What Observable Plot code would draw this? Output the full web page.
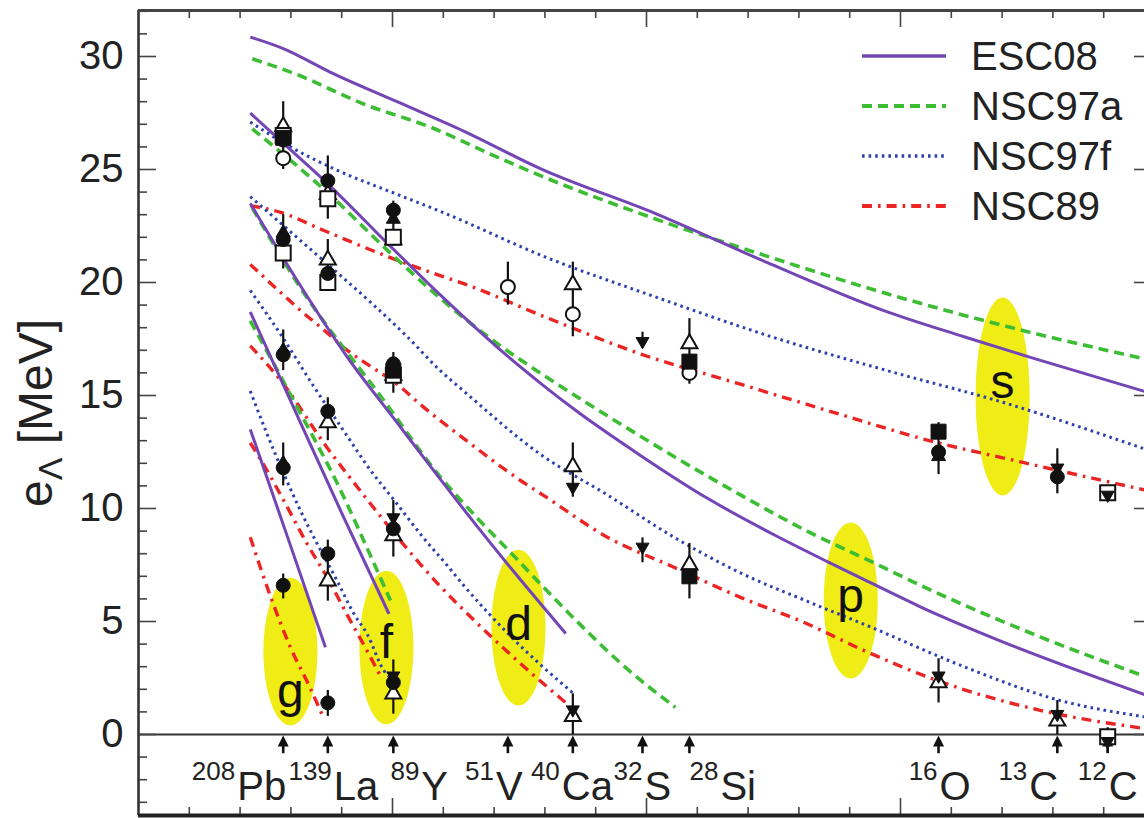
<!DOCTYPE html>
<html><head><meta charset="utf-8">
<script src="https://cdn.jsdelivr.net/npm/d3@7"></script>
<script src="https://cdn.jsdelivr.net/npm/@observablehq/plot@0.6"></script>
<style>
html,body{margin:0;padding:0;background:#fff;overflow:hidden;}
#chart svg{display:block;overflow:hidden;}
</style></head><body><div id="chart"></div>
<script>
// ---------- nuclei (x = A^(-2/3)) ----------
const nucA = [208, 139, 89, 51, 40, 32, 28, 16, 13, 12];
const nucSymbol = ["Pb", "La", "Y", "V", "Ca", "S", "Si", "O", "C", "C"];
const nucKey = ["Pb208", "La139", "Y89", "V51", "Ca40", "S32", "Si28", "O16", "C13", "C12"];

// ---------- theory curves [A^(-2/3), e_Lambda (MeV)] ----------
const esc08S = [[0.0220,30.86],[0.0285,30.35],[0.0378,29.3],[0.0509,28.0],[0.0640,26.7],[0.0791,25.04],[0.1019,23.04],[0.1246,20.8],[0.1474,18.7],[0.1625,17.6],[0.1754,16.7],[0.1985,15.15]];
const esc08P = [[0.0220,27.5],[0.0293,26.0],[0.0371,24.4],[0.0496,21.6],[0.0594,19.45],[0.0726,16.75],[0.0791,15.55],[0.0857,14.4],[0.0988,12.35],[0.1120,10.45],[0.1250,8.85],[0.1356,7.65],[0.1447,6.65],[0.1539,5.65],[0.1701,4.1],[0.1985,1.73]];
const esc08D = [[0.0220,23.5],[0.0312,20.1],[0.0411,16.7],[0.0509,13.8],[0.0594,11.3],[0.0667,9.2],[0.0739,7.2],[0.0841,4.47]];
const esc08F = [[0.0220,18.7],[0.0299,14.78],[0.0398,9.9],[0.0493,5.34]];
const esc08G = [[0.0220,13.5],[0.0294,8.7],[0.0368,3.86]];

const nsc97aS = [[0.0224,29.9],[0.0312,29.2],[0.0443,27.9],[0.0575,26.87],[0.0706,25.55],[0.0791,24.73],[0.1019,22.8],[0.1246,21.1],[0.1474,19.5],[0.1701,18.1],[0.1985,16.6]];
const nsc97aP = [[0.0224,26.8],[0.0371,24.0],[0.0496,21.3],[0.0594,19.3],[0.0706,17.3],[0.0811,15.7],[0.0923,14.1],[0.1054,12.3],[0.1185,10.6],[0.1316,9.0],[0.1447,7.6],[0.1549,6.5],[0.1777,4.3],[0.1985,2.54]];
const nsc97aD = [[0.0224,23.3],[0.0312,20.0],[0.0483,14.78],[0.0594,11.4],[0.0666,9.6],[0.0739,7.9],[0.0798,6.5],[0.0870,4.85],[0.0962,2.9],[0.1057,1.2]];
const nsc97aF = [[0.0220,18.3],[0.0312,14.5],[0.0398,10.8],[0.0443,8.6],[0.0496,5.93]];

const nsc97fS = [[0.0220,27.1],[0.0299,26.0],[0.0378,25.1],[0.0509,23.9],[0.0594,23.15],[0.0804,21.1],[0.1019,19.35],[0.1246,17.6],[0.1474,16.1],[0.1701,14.7],[0.1985,12.6]];
const nsc97fP = [[0.0220,23.8],[0.0332,21.6],[0.0398,20.3],[0.0463,19.0],[0.0529,17.6],[0.0594,16.1],[0.0640,15.2],[0.0791,12.4],[0.0923,10.6],[0.1054,8.73],[0.1185,7.15],[0.1316,5.9],[0.1447,4.7],[0.1625,3.0],[0.1815,1.5],[0.1985,0.77]];
const nsc97fD = [[0.0220,19.65],[0.0280,17.7],[0.0345,15.4],[0.0411,13.2],[0.0450,11.9],[0.0509,10.2],[0.0561,8.7],[0.0607,7.5],[0.0640,6.6],[0.0739,4.2],[0.0857,1.8]];
const nsc97fF = [[0.0220,15.2],[0.0253,13.3],[0.0286,11.53],[0.0319,9.9],[0.0352,8.43],[0.0391,6.8],[0.0424,5.34],[0.0450,4.45],[0.0483,2.83],[0.0496,2.5]];

const nsc89S = [[0.0220,23.4],[0.0280,23.1],[0.0365,22.3],[0.0496,21.1],[0.0588,20.35],[0.0640,19.95],[0.0803,18.45],[0.0988,16.84],[0.1185,15.5],[0.1398,14.05],[0.1549,13.05],[0.1739,12.05],[0.1985,10.8]];
const nsc89P = [[0.0220,20.8],[0.0273,19.7],[0.0319,18.76],[0.0365,17.9],[0.0411,17.0],[0.0463,16.2],[0.0509,15.5],[0.0555,14.6],[0.0654,12.86],[0.0752,11.24],[0.0798,10.57],[0.0923,8.73],[0.1054,7.4],[0.1185,6.07],[0.1316,4.9],[0.1420,3.8],[0.1572,2.39],[0.1777,1.06],[0.1985,0.25]];
const nsc89D = [[0.0220,17.2],[0.0280,15.66],[0.0371,12.7],[0.0443,10.6],[0.0522,8.4],[0.0588,6.7],[0.0654,5.2],[0.0739,3.4],[0.0844,1.35]];
const nsc89F = [[0.0220,12.9],[0.0234,12.4],[0.0286,10.35],[0.0332,8.43],[0.0371,6.96],[0.0417,5.04],[0.0450,3.7],[0.0476,2.6]];
const nsc89G = [[0.0220,8.73],[0.0260,6.1],[0.0299,3.86],[0.0335,2.2],[0.0365,0.7]];

const modelNames = ["ESC08", "NSC97a", "NSC97f", "NSC89"];
const modelCurves = [
  [esc08S, esc08P, esc08D, esc08F, esc08G],
  [nsc97aS, nsc97aP, nsc97aD, nsc97aF],
  [nsc97fS, nsc97fP, nsc97fD, nsc97fF],
  [nsc89S, nsc89P, nsc89D, nsc89F, nsc89G]
];

// ---------- experimental points [nucleus, e_Lambda] ----------
const openTriangles = [["Pb208",26.9],["La139",23.9],["La139",21.0],["La139",13.8],["La139",6.8],["Y89",21.9],["Y89",15.9],["Y89",8.8],["Y89",1.8],["Ca40",19.9],["Ca40",11.85],["Ca40",0.8],["Si28",17.3],["Si28",7.5],["O16",2.3],["C13",0.6]];
const openSquares = [["Pb208",26.5],["Pb208",21.3],["La139",23.7],["La139",20.0],["Y89",22.0],["Y89",15.9],["C12",10.7],["C12",-0.1]];
const openCircles = [["Pb208",25.5],["V51",19.8],["Ca40",18.6],["Si28",16.0]];
const filledSquares = [["Pb208",26.4],["Y89",16.1],["Si28",16.5],["Si28",7.0],["O16",13.4]];
const filledUpTriangles = [["Pb208",22.2],["Pb208",17.0],["Pb208",12.0],["Y89",22.8],["O16",12.3]];
const filledCircles = [["Pb208",26.3],["Pb208",21.9],["Pb208",16.8],["Pb208",11.8],["Pb208",6.6],["La139",24.5],["La139",20.4],["La139",14.3],["La139",8.0],["La139",1.4],["Y89",23.2],["Y89",16.4],["Y89",9.1],["Y89",2.3],["O16",12.5],["C13",11.4]];
const filledDownTriangles = [["Y89",9.6],["Y89",2.6],["Ca40",10.95],["Ca40",1.1],["S32",17.4],["S32",8.3],["O16",2.6],["C13",11.8],["C13",0.9],["C12",10.6],["C12",-0.3]];
// error bars [nucleus, low, high]
const errorBars = [["Pb208",25.0,28.0],["Pb208",20.6,23.0],["Pb208",16.1,17.9],["Pb208",11.0,12.9],["Pb208",6.0,7.1],
  ["La139",22.8,25.6],["La139",19.6,21.9],["La139",13.0,14.9],["La139",5.9,8.6],["La139",0.8,1.95],
  ["Y89",21.6,23.6],["Y89",15.1,16.9],["Y89",7.85,10.35],["Y89",0.9,3.3],["V51",19.0,20.9],
  ["Ca40",17.6,20.9],["Ca40",10.5,12.9],["Ca40",0.0,1.8],["S32",17.1,17.8],["S32",7.6,8.7],
  ["Si28",15.5,18.4],["Si28",6.0,8.45],["O16",11.5,13.8],["O16",1.4,3.35],["C13",10.65,12.64],["C13",0.0,1.5],
  ["C12",10.4,11.0],["C12",-0.8,0.3]];

// ---------- shell markers ----------
const shellLabels = ["g", "f", "d", "p", "s"];
const shellX = [0.0299, 0.0488, 0.0748, 0.1402, 0.1701];
const shellE = [3.67, 3.85, 4.73, 5.93, 14.96];
const shellHalfHeight = [3.27, 3.4, 3.45, 3.45, 4.38];
const shellLabelE = [1.2, 3.4, 4.16, 5.4, 14.9];

const yMajorTicks = [0, 5, 10, 15, 20, 25, 30];

// ---------- styles ----------
const FONT = "'Liberation Sans', Arial, Helvetica, sans-serif";
const INK = "#222";
const modelColors = ["#7445b5", "#3cbd34", "#2c40ae", "#ec2424"];
const modelDash = [null, "10,6", "2.6,4", "10,6,2.6,6"];
const modelWidth = [3, 3.6, 3, 3.4];
const labelSplitDx = [-47, 5, 27, -13, -12, 1, 30, 0, -29, 0];

const yDomain = [-3.584, 32.035];
const pxPerE = (815 - 10) / (yDomain[1] - yDomain[0]);
const pxPerX = (1154 - 138) / 0.2;
const xOf = Object.fromEntries(nucKey.map((k, i) => [k, Math.pow(nucA[i], -2 / 3)]));

// symbols
const ellipseSymbol = (rx, ry) => ({draw(c) {
  const k = 0.5523, ox = rx * k, oy = ry * k;
  c.moveTo(-rx, 0);
  c.bezierCurveTo(-rx, -oy, -ox, -ry, 0, -ry);
  c.bezierCurveTo(ox, -ry, rx, -oy, rx, 0);
  c.bezierCurveTo(rx, oy, ox, ry, 0, ry);
  c.bezierCurveTo(-ox, ry, -rx, oy, -rx, 0);
  c.closePath();
}});
const squareSym = {draw(c) { const h = 7.5; c.moveTo(-h, -h); c.lineTo(h, -h); c.lineTo(h, h); c.lineTo(-h, h); c.closePath(); }};
const triUpSym = (s) => ({draw(c) { const h = s * 0.866; c.moveTo(0, -2 * h / 3); c.lineTo(s / 2, h / 3); c.lineTo(-s / 2, h / 3); c.closePath(); }});
const triDownSym = (s) => ({draw(c) { const h = s * 0.866; c.moveTo(0, 2 * h / 3); c.lineTo(s / 2, -h / 3); c.lineTo(-s / 2, -h / 3); c.closePath(); }});
const arrowHeadSym = {draw(c) { c.moveTo(0, 1); c.lineTo(5.5, 12); c.lineTo(-5.5, 12); c.closePath(); }};

const marks = [];
// yellow ellipses
shellLabels.forEach((s, i) => {
  marks.push(Plot.dot([i], {x: d => shellX[d], y: d => shellE[d], symbol: ellipseSymbol(27, shellHalfHeight[i] * pxPerE), fill: "#f0ec16", stroke: "none"}));
});
// theory curves (draw red, blue, green, purple)
[3, 2, 1, 0].forEach(m => {
  modelCurves[m].forEach(curve => {
    marks.push(Plot.line(curve, {x: d => d[0], y: d => d[1], stroke: modelColors[m], strokeWidth: modelWidth[m], strokeDasharray: modelDash[m], curve: "monotone-x", strokeLinecap: "butt"}));
  });
});
// zero line
marks.push(Plot.ruleY([0], {stroke: "#333", strokeWidth: 1.8}));
// ticks
const xAll = d3.range(1, 20).map(i => i / 100);
const xMajor = xAll.filter(v => Math.abs(v * 20 - Math.round(v * 20)) < 1e-9);
const xMinor = xAll.filter(v => !xMajor.includes(v));
const yMinor = d3.range(-3, 33).filter(v => v % 5 !== 0);
const tickStyle = {stroke: "#444", strokeWidth: 1.6};
marks.push(Plot.ruleX(xMinor, {x: d => d, y1: yDomain[1], y2: yDomain[1] - 8 / pxPerE, ...tickStyle}));
marks.push(Plot.ruleX(xMajor, {x: d => d, y1: yDomain[1], y2: yDomain[1] - 17 / pxPerE, ...tickStyle}));
marks.push(Plot.ruleX(xMinor, {x: d => d, y1: yDomain[0], y2: yDomain[0] + 8 / pxPerE, ...tickStyle}));
marks.push(Plot.ruleX(xMajor, {x: d => d, y1: yDomain[0], y2: yDomain[0] + 17 / pxPerE, ...tickStyle}));
marks.push(Plot.ruleY(yMinor, {y: d => d, x1: 0, x2: 9 / pxPerX, ...tickStyle}));
marks.push(Plot.ruleY(yMajorTicks, {y: d => d, x1: 0, x2: 18 / pxPerX, ...tickStyle}));
marks.push(Plot.ruleY(yMinor, {y: d => d, x1: 0.2 - 9 / pxPerX, x2: 0.2, ...tickStyle}));
marks.push(Plot.ruleY(yMajorTicks, {y: d => d, x1: 0.2 - 20 / pxPerX, x2: 0.2, ...tickStyle}));
// frame
marks.push(Plot.ruleX([0], {stroke: "#333", strokeWidth: 2.6}));
marks.push(Plot.ruleY([yDomain[1]], {stroke: "#444", strokeWidth: 3}));
marks.push(Plot.ruleY([yDomain[0]], {stroke: "#222", strokeWidth: 4}));
// arrows
marks.push(Plot.ruleX(nucKey, {x: k => xOf[k], y1: () => -0.85, y2: () => -0.3, stroke: "#111", strokeWidth: 2.6}));
marks.push(Plot.dot(nucKey, {x: k => xOf[k], y: () => 0, symbol: arrowHeadSym, fill: "#111", stroke: "none"}));
// error bars
marks.push(Plot.ruleX(errorBars, {x: d => xOf[d[0]], y1: d => d[1], y2: d => d[2], stroke: "#111", strokeWidth: 2.2}));
// markers
const open = {fill: "white", stroke: "#111", strokeWidth: 2};
const solid = {fill: "#111", stroke: "#111", strokeWidth: 1};
const px = d => xOf[d[0]], py = d => d[1];
marks.push(Plot.dot(openTriangles, {x: px, y: py, symbol: triUpSym(16), ...open}));
marks.push(Plot.dot(openSquares, {x: px, y: py, symbol: squareSym, ...open}));
marks.push(Plot.dot(openCircles, {x: px, y: py, symbol: "circle", r: 7, ...open}));
marks.push(Plot.dot(filledSquares, {x: px, y: py, symbol: squareSym, ...solid}));
marks.push(Plot.dot(filledUpTriangles, {x: px, y: py, symbol: triUpSym(14), ...solid}));
marks.push(Plot.dot(filledCircles, {x: px, y: py, symbol: "circle", r: 7, ...solid}));
marks.push(Plot.dot(filledDownTriangles, {x: px, y: py, symbol: triDownSym(13), ...solid}));
// shell letters
marks.push(Plot.text(shellLabels.map((s, i) => i), {x: i => shellX[i], y: i => shellLabelE[i], text: i => shellLabels[i], fontSize: 48, lineAnchor: "bottom", textAnchor: "middle", fill: "#111", fontFamily: FONT}));
// y tick labels
marks.push(Plot.text(yMajorTicks, {y: d => d, frameAnchor: "left", text: d => String(d), dx: -15, textAnchor: "end", fontSize: 40, fill: INK, fontFamily: FONT}));
// nucleus labels
nucKey.forEach((k, i) => {
  marks.push(Plot.text([i], {x: d => xOf[nucKey[d]], y: () => -2.035, text: d => String(nucA[d]), textAnchor: "end", dx: labelSplitDx[i] - 1, fontSize: 26, lineAnchor: "bottom", fill: INK, fontFamily: FONT}));
  marks.push(Plot.text([i], {x: d => xOf[nucKey[d]], y: () => -2.92, text: d => nucSymbol[d], textAnchor: "start", dx: labelSplitDx[i] + 1, fontSize: 40, lineAnchor: "bottom", fill: INK, fontFamily: FONT}));
});

const chart = Plot.plot({
  width: 1144, height: 818,
  marginLeft: 138, marginRight: 0, marginTop: 10, marginBottom: 3,
  style: {fontFamily: FONT, background: "white", overflow: "hidden"},
  x: {type: "linear", domain: [0, 0.2], range: [138, 1154], axis: null},
  y: {type: "linear", domain: yDomain, range: [815, 10], axis: null},
  marks
});

// legend
const svg = d3.select(chart);
const lg = svg.append("g").attr("font-family", FONT).attr("text-anchor", "start");
modelNames.forEach((name, i) => {
  const yy = 56 + i * 50;
  const ln = lg.append("line").attr("x1", 862).attr("x2", 946).attr("y1", yy).attr("y2", yy)
    .attr("stroke", modelColors[i]).attr("stroke-width", modelWidth[i] + 0.6);
  if (modelDash[i]) ln.attr("stroke-dasharray", modelDash[i]);
  lg.append("text").attr("x", 971).attr("y", yy).attr("dy", "0.35em").attr("font-size", 40)
    .attr("text-anchor", "start").attr("fill", INK).text(name);
});
// y label
const yl = svg.append("text").attr("transform", "translate(52,413) rotate(-90)").attr("text-anchor", "middle")
  .attr("font-size", 48).attr("fill", INK).attr("font-family", FONT);
yl.append("tspan").text("e");
yl.append("tspan").attr("font-size", 34).attr("dy", 10).text("Λ");
yl.append("tspan").attr("dy", -10).text(" [MeV]");

document.getElementById("chart").appendChild(chart);
</script>
</body></html>
